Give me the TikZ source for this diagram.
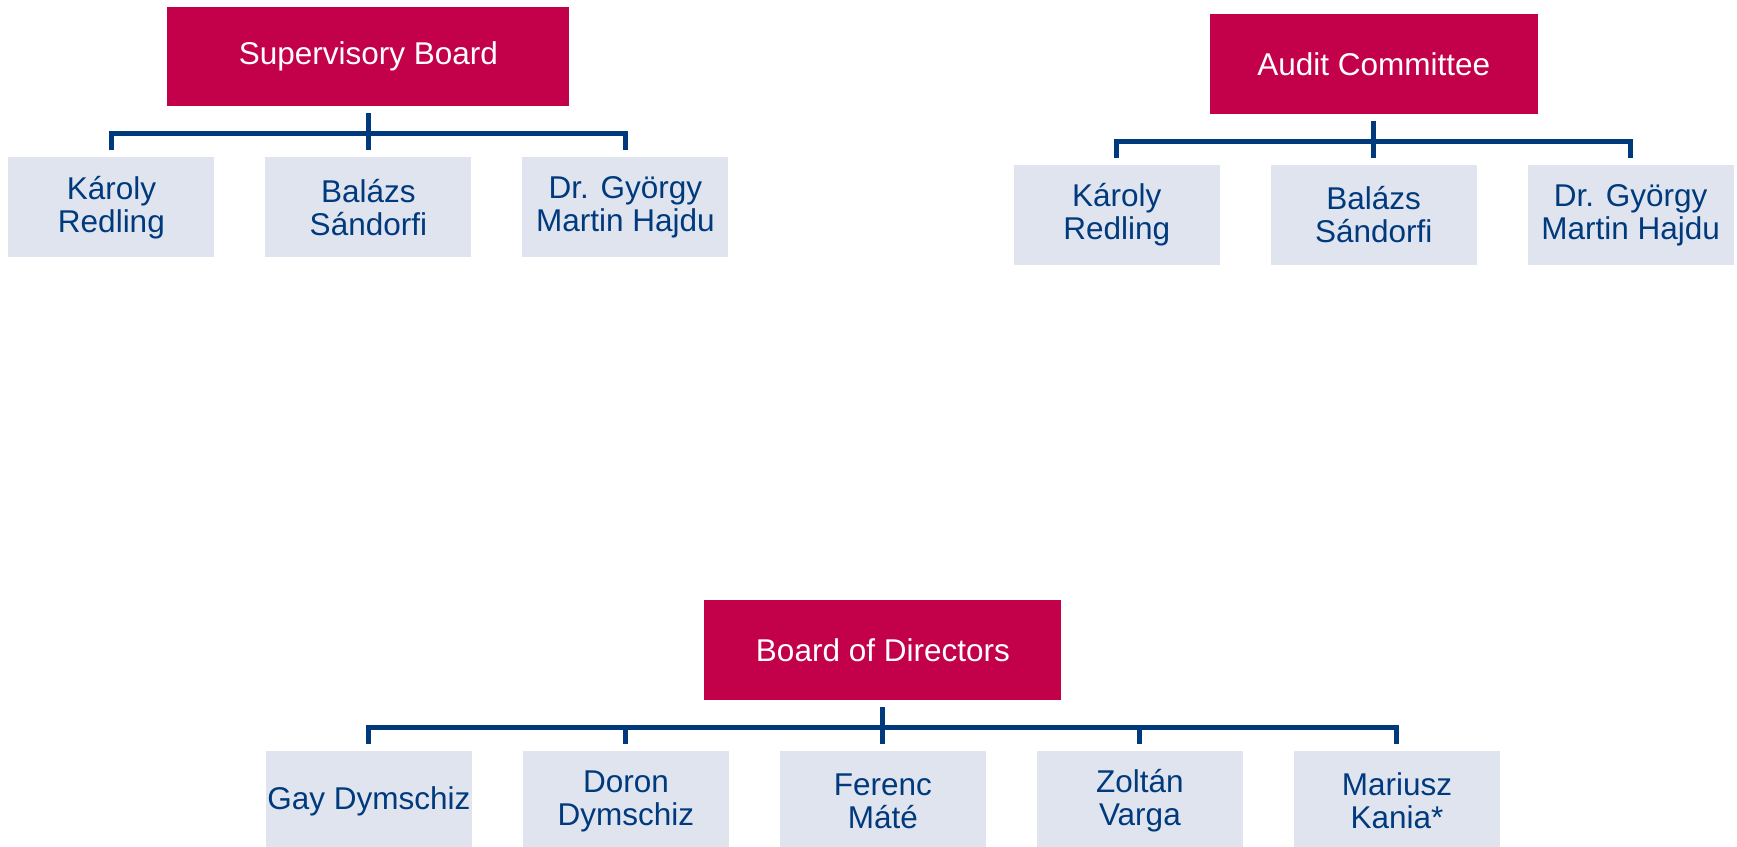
\documentclass[tikz,border=0pt]{standalone}
\usepackage{fontspec}
\setmainfont{Liberation Sans}
\definecolor{boardred}{HTML}{C3004A}
\definecolor{nameblue}{HTML}{003A7D}
\definecolor{namegray}{HTML}{E0E4EF}
\begin{document}
\begin{tikzpicture}[x=1pt, y=1pt, level distance=150.7pt, sibling distance=257pt,
        edge from parent/.style={draw=nameblue, line width=5pt},
        edge from parent path={(\tikzparentnode.south) -- ++(0,-20) -| (\tikzchildnode.north)}]
    \tikzstyle{headbox}=[fill=boardred, text=white, minimum height=99.7pt, inner sep=0pt, outer sep=7pt, font=\fontsize{31.5}{33}\selectfont]
    \tikzstyle{namebox}=[fill=namegray, text=nameblue, minimum width=206pt, minimum height=99.7pt, inner sep=0pt, outer sep=7pt, align=center, font=\fontsize{31.5}{33}\selectfont]

    \useasboundingbox (0,0) rectangle (1737,-846);

    \node[headbox, minimum width=402pt] (supboard) at (368.4,-56.5) {Supervisory Board}
        child { node[namebox] (sup-redling) {Károly\\Redling} }
        child { node[namebox] (sup-sandorfi) {Balázs\\Sándorfi} }
        child { node[namebox] (sup-hajdu) {Dr. György\\Martin Hajdu} }
        ;

    \node[headbox, minimum width=328pt] (audit) at (1373.7,-64.3) {Audit Committee}
        child { node[namebox] (aud-redling) {Károly\\Redling} }
        child { node[namebox] (aud-sandorfi) {Balázs\\Sándorfi} }
        child { node[namebox] (aud-hajdu) {Dr. György\\Martin Hajdu} }
        ;

    \node[headbox, minimum width=357pt] (directors) at (882.9,-650.3) {Board of Directors}
        child { node[namebox] (dir-gay) {Gay Dymschiz} }
        child { node[namebox] (dir-doron) {Doron\\Dymschiz} }
        child { node[namebox] (dir-mate) {Ferenc\\Máté} }
        child { node[namebox] (dir-varga) {Zoltán\\Varga} }
        child { node[namebox] (dir-kania) {Mariusz\\Kania*} }
        ;
\end{tikzpicture}
\end{document}
